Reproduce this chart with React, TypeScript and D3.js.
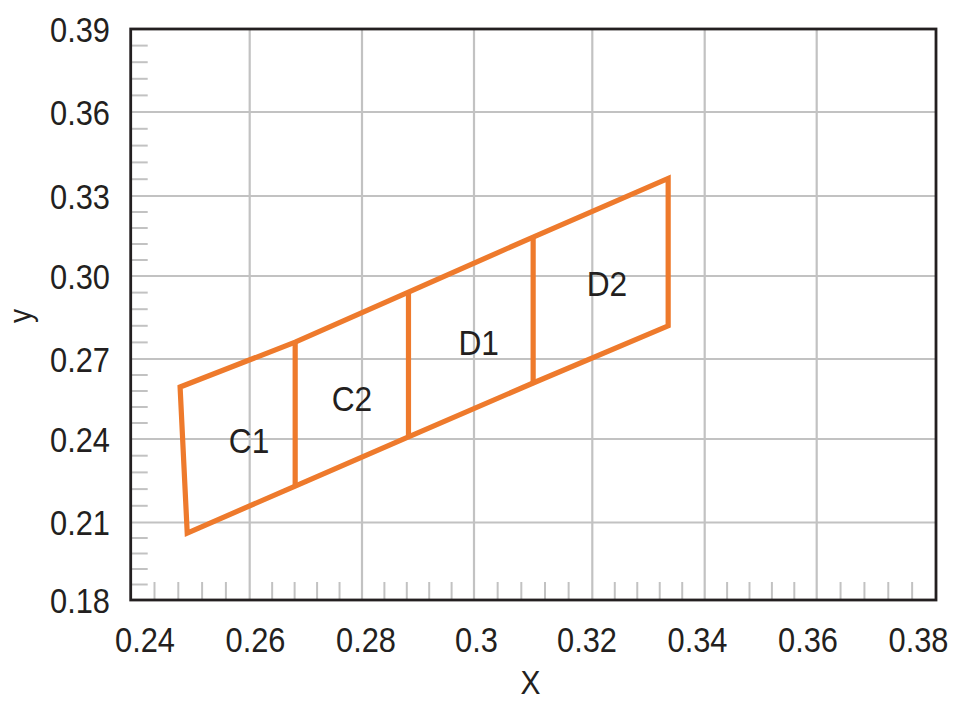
import React from "react";
import * as d3 from "d3";

const xTicks = [0.24, 0.26, 0.28, 0.3, 0.32, 0.34, 0.36, 0.38];
const xTickLabels = ["0.24", "0.26", "0.28", "0.3", "0.32", "0.34", "0.36", "0.38"];
const yTicks = [0.18, 0.21, 0.24, 0.27, 0.3, 0.33, 0.36, 0.39];
const yTickLabels = ["0.18", "0.21", "0.24", "0.27", "0.30", "0.33", "0.36", "0.39"];

// x positions of the strip boundaries (left edge, dividers, right edge)
const stripX = [0.2483, 0.2681, 0.2883, 0.31, 0.3335];
const upperY = [0.2595, 0.2761, 0.2942, 0.3146, 0.3363];
const lowerXStart = 0.2495;
const lowerY = [0.2059, 0.2231, 0.2408, 0.261, 0.282];

const regionNames = ["C1", "C2", "D1", "D2"];
const regionX = [0.2599, 0.2782, 0.3008, 0.3226];
const regionY = [0.2396, 0.2554, 0.2761, 0.2975];

// layout: pixel calibration of the axes (as in the reference drawing)
const W = 954;
const H = 702;
const xRange = [130.7, 249.7, 362, 474, 592.3, 704.7, 816.7, 936];
const yRange = [600, 522.5, 439, 359, 276, 196, 112, 29];
const xLabelRange = [145, 918.5];

const FONT = "'Liberation Sans', Arial, sans-serif";
const INK = "#231F20";
const GRID = "#C2C2C2";
const ORANGE = "#EE7A2C";
const SX = 0.88;

export default function App() {
  const x = d3.scaleLinear().domain(xTicks).range(xRange);
  const y = d3.scaleLinear().domain(yTicks).range(yRange);
  const xl = d3.scaleLinear().domain([xTicks[0], xTicks[xTicks.length - 1]]).range(xLabelRange);
  const left = x(xTicks[0]);
  const right = x(xTicks[xTicks.length - 1]);
  const top = y(yTicks[yTicks.length - 1]);
  const bottom = y(yTicks[0]);

  const upper = stripX.map((v, i) => [x(v), y(upperY[i])] as [number, number]);
  const lower = stripX.map((v, i) => [x(i === 0 ? lowerXStart : v), y(lowerY[i])] as [number, number]);
  const outline = [...upper, ...lower.slice().reverse()];
  const line = d3.line();

  const xMinor: number[] = [];
  for (let i = 0; i < xTicks.length - 1; i++) {
    for (let k = 1; k < 5; k++) xMinor.push(xTicks[i] + ((xTicks[i + 1] - xTicks[i]) * k) / 5);
  }
  const yMinor: number[] = [];
  for (let i = 0; i < yTicks.length - 1; i++) {
    for (let k = 1; k < 5; k++) yMinor.push(yTicks[i] + ((yTicks[i + 1] - yTicks[i]) * k) / 5);
  }

  const T = (props: { px: number; py: number; anchor?: string; size?: number; children: any; rot?: number }) => (
    <text
      transform={`translate(${props.px},${props.py})${props.rot ? ` rotate(${props.rot})` : ""} scale(${SX},1)`}
      textAnchor={props.anchor || "middle"}
      fontFamily={FONT}
      fontSize={props.size || 35}
      fill={INK}
    >
      {props.children}
    </text>
  );

  return (
    <svg width={W} height={H} style={{ position: "absolute", left: 0, top: 0, background: "#fff" }}>
      <rect x={0} y={0} width={W} height={H} fill="#fff" />
      {/* grid */}
      {xTicks.slice(1, -1).map((t) => (
        <line key={"gx" + t} x1={x(t)} x2={x(t)} y1={top} y2={bottom} stroke={GRID} strokeWidth={2.2} />
      ))}
      {yTicks.slice(1, -1).map((t) => (
        <line key={"gy" + t} x1={left} x2={right} y1={y(t)} y2={y(t)} stroke={GRID} strokeWidth={2.2} />
      ))}
      {/* minor ticks */}
      {xMinor.map((t, i) => (
        <line key={"mx" + i} x1={x(t)} x2={x(t)} y1={bottom - 18} y2={bottom} stroke={GRID} strokeWidth={2} />
      ))}
      {yMinor.map((t, i) => (
        <line key={"my" + i} x1={left} x2={left + 17} y1={y(t)} y2={y(t)} stroke={GRID} strokeWidth={2} />
      ))}
      {/* frame */}
      <rect x={left} y={top} width={right - left} height={bottom - top} fill="none" stroke={INK} strokeWidth={2.8} />
      {/* polygon */}
      <path d={line(outline) + "Z"} fill="none" stroke={ORANGE} strokeWidth={5.2} strokeLinejoin="miter" />
      {stripX.slice(1, -1).map((v, i) => (
        <line
          key={"div" + i}
          x1={x(v)}
          x2={x(v)}
          y1={y(upperY[i + 1])}
          y2={y(lowerY[i + 1])}
          stroke={ORANGE}
          strokeWidth={5.2}
        />
      ))}
      {/* region labels */}
      {regionNames.map((n, i) => (
        <T key={n} px={x(regionX[i])} py={y(regionY[i]) + 13} size={36}>
          {n}
        </T>
      ))}
      {/* x tick labels */}
      {xTicks.map((t, i) => (
        <T key={"xl" + t} px={xl(t)} py={652}>
          {xTickLabels[i]}
        </T>
      ))}
      {/* y tick labels */}
      {yTicks.map((t, i) => (
        <T key={"yl" + t} px={110} py={y(t) + 12.5} anchor="end">
          {yTickLabels[i]}
        </T>
      ))}
      {/* axis titles */}
      <T px={(left + right) / 2 - 3} py={694} size={34}>
        X
      </T>
      <T px={31} py={316} rot={-90} size={32}>
        y
      </T>
    </svg>
  );
}
